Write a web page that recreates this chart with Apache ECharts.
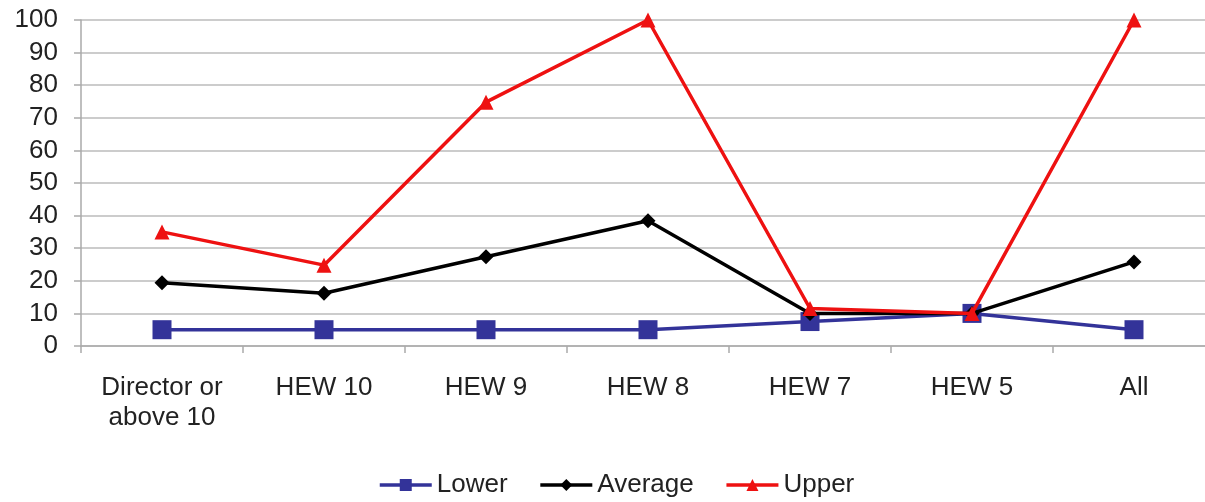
<!DOCTYPE html>
<html><head><meta charset="utf-8">
<script src="https://cdn.jsdelivr.net/npm/echarts@6/dist/echarts.min.js"></script>
<style>html,body{margin:0;padding:0;background:#fff}#c{width:1205px;height:502px}</style>
</head><body><div id="c"></div>
<script>
const categories = ["Director or\nabove 10", "HEW 10", "HEW 9", "HEW 8", "HEW 7", "HEW 5", "All"];
const lower = [5, 5, 5, 5, 7.5, 10, 5];
const average = [19.4, 16.2, 27.4, 38.4, 10, 10, 25.8];
const upper = [35, 24.8, 74.8, 100, 11.5, 10, 100];
const yTicks = [0, 10, 20, 30, 40, 50, 60, 70, 80, 90, 100];

const chart = echarts.init(document.getElementById('c'));
chart.setOption({
  animation: false,
  textStyle: {fontFamily: 'Liberation Sans, Arial, sans-serif'},
  grid: {left: 81, width: 1134, top: 20, height: 326, outerBoundsMode: 'none'},
  legend: {
    top: 467, left: 373, itemWidth: 52, itemHeight: 15, itemGap: 31,
    lineStyle: {width: 3.5},
    textStyle: {fontSize: 26, color: '#222'},
    data: ['Lower', 'Average', 'Upper']
  },
  xAxis: {
    type: 'category', data: categories, boundaryGap: true,
    axisLine: {lineStyle: {color: '#aaa', width: 1.5}},
    axisTick: {show: true, length: 7, lineStyle: {color: '#aaa', width: 1.5}},
    axisLabel: {fontSize: 26, color: '#222', margin: 27, lineHeight: 30, interval: 0}
  },
  yAxis: {
    type: 'value', min: 0, max: 100, interval: 10,
    axisLine: {show: true, lineStyle: {color: '#aaa', width: 1.5}},
    axisTick: {show: true, length: 7, lineStyle: {color: '#aaa', width: 1.5}},
    splitLine: {lineStyle: {color: '#bbb', width: 1.5}},
    axisLabel: {fontSize: 26, color: '#222', margin: 23,
      formatter: v => yTicks.includes(v) ? String(v) : ''}
  },
  series: [
    {name: 'Lower', type: 'line', data: lower, symbol: 'rect', symbolSize: 19,
     lineStyle: {color: '#333399', width: 3.5}, itemStyle: {color: '#333399'}, z: 2},
    {name: 'Average', type: 'line', data: average, symbol: 'diamond', symbolSize: 15,
     lineStyle: {color: '#000', width: 3.5}, itemStyle: {color: '#000'}, z: 3},
    {name: 'Upper', type: 'line', data: upper, symbol: 'triangle', symbolSize: 15,
     lineStyle: {color: '#ee1111', width: 3.5}, itemStyle: {color: '#ee1111'}, z: 4}
  ]
});
</script></body></html>
